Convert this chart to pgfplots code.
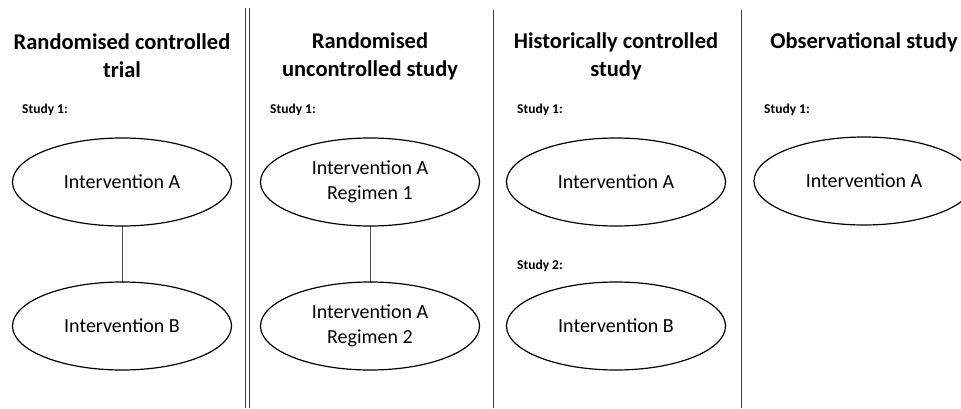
\documentclass[border=0pt]{standalone}
\usepackage{pgfplots}
\pgfplotsset{compat=1.18}
\usepackage{fontspec}
\setmainfont{Carlito}
\begin{document}
\begin{tikzpicture}
\begin{axis}[name=ax, x=1pt, y=1pt, xmin=0, xmax=961, ymin=0, ymax=408,
  hide axis, scale only axis, clip=false]
% dividers
\addplot[draw=black!75, line width=1pt] coordinates {(245,0) (245,400)};
\addplot[draw=black!75, line width=1pt] coordinates {(249.5,0) (249.5,400)};
\addplot[draw=black!75, line width=1pt] coordinates {(493,0) (493,398)};
\addplot[draw=black!75, line width=1pt] coordinates {(741,0) (741,398)};
% connectors
\addplot[draw=black!70, line width=0.9pt] coordinates {(122,182) (122,125)};
\addplot[draw=black!70, line width=0.9pt] coordinates {(370,182) (370,125)};
% ellipses
\draw[line width=1.2pt] (axis cs:122,226) ellipse [x radius=109.5, y radius=44];
\draw[line width=1.2pt] (axis cs:122,82) ellipse [x radius=109.5, y radius=44];
\draw[line width=1.2pt] (axis cs:370,226) ellipse [x radius=109.5, y radius=44];
\draw[line width=1.2pt] (axis cs:370,82) ellipse [x radius=109.5, y radius=44];
\draw[line width=1.2pt] (axis cs:616,226) ellipse [x radius=109.5, y radius=44];
\draw[line width=1.2pt] (axis cs:616,82) ellipse [x radius=109.5, y radius=44];
\draw[line width=1.2pt] (axis cs:864,227) ellipse [x radius=110, y radius=44];
% titles
\node[align=center, font=\fontsize{22.5}{28}\selectfont\bfseries] at (axis cs:122,352) {Randomised controlled\\trial};
\node[align=center, font=\fontsize{22.5}{28}\selectfont\bfseries] at (axis cs:370,352) {Randomised\\uncontrolled study};
\node[align=center, font=\fontsize{22.5}{28}\selectfont\bfseries] at (axis cs:616,352) {Historically controlled\\study};
\node[align=center, font=\fontsize{22.5}{28}\selectfont\bfseries] at (axis cs:864,366) {Observational study};
% study labels
\node[anchor=west, inner sep=0pt, font=\fontsize{13.5}{16}\selectfont\bfseries] at (axis cs:22,298) {Study 1:};
\node[anchor=west, inner sep=0pt, font=\fontsize{13.5}{16}\selectfont\bfseries] at (axis cs:270,298) {Study 1:};
\node[anchor=west, inner sep=0pt, font=\fontsize{13.5}{16}\selectfont\bfseries] at (axis cs:517,298) {Study 1:};
\node[anchor=west, inner sep=0pt, font=\fontsize{13.5}{16}\selectfont\bfseries] at (axis cs:517,142) {Study 2:};
\node[anchor=west, inner sep=0pt, font=\fontsize{13.5}{16}\selectfont\bfseries] at (axis cs:764,298) {Study 1:};
% ellipse texts
\node[align=center, font=\fontsize{20}{24}\selectfont] at (axis cs:122,226) {Intervention A};
\node[align=center, font=\fontsize{20}{24}\selectfont] at (axis cs:122,82) {Intervention B};
\node[align=center, font=\fontsize{20}{25}\selectfont] at (axis cs:370,226) {Intervention A\\Regimen 1};
\node[align=center, font=\fontsize{20}{25}\selectfont] at (axis cs:370,82) {Intervention A\\Regimen 2};
\node[align=center, font=\fontsize{20}{24}\selectfont] at (axis cs:616,226) {Intervention A};
\node[align=center, font=\fontsize{20}{24}\selectfont] at (axis cs:616,82) {Intervention B};
\node[align=center, font=\fontsize{20}{24}\selectfont] at (axis cs:864,227) {Intervention A};
\end{axis}
\pgfresetboundingbox
\path[use as bounding box] (ax.south west) rectangle (ax.north east);
\end{tikzpicture}
\end{document}
